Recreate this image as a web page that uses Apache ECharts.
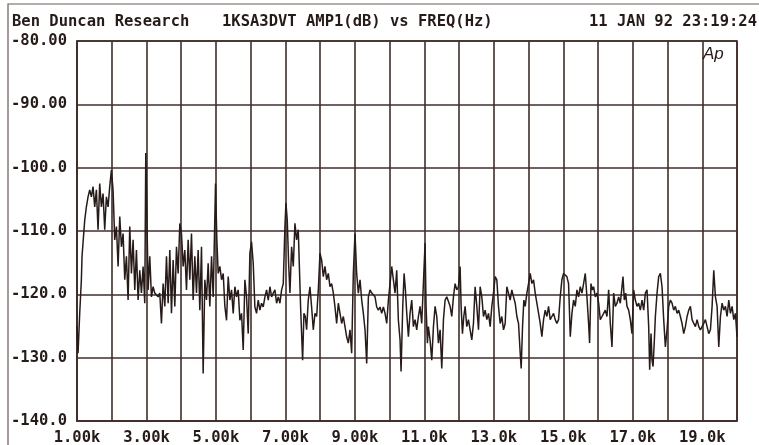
<!DOCTYPE html>
<html>
<head>
<meta charset="utf-8">
<script src="https://cdn.jsdelivr.net/npm/echarts/dist/echarts.min.js"></script>
<style>
html,body{margin:0;padding:0;background:#fff;}
#c{width:759px;height:445px;}
</style>
</head>
<body>
<div id="c"></div>
<script>
// Header texts
const headerLeft = 'Ben Duncan Research';
const headerMid = '1KSA3DVT AMP1(dB) vs FREQ(Hz)';
const headerRight = '11 JAN 92 23:19:24';

// Axis ticks and labels
const xTicksHz = [1000,2000,3000,4000,5000,6000,7000,8000,9000,10000,11000,12000,13000,14000,15000,16000,17000,18000,19000,20000];
const xTickLabels = ['1.00k','','3.00k','','5.00k','','7.00k','','9.00k','','11.0k','','13.0k','','15.0k','','17.0k','','19.0k',''];
const yTicksDb = [-140,-130,-120,-110,-100,-90,-80];
const yTickLabels = ['-140.0','-130.0','-120.0','-110.0','-100.0','-90.00','-80.00'];

// Spectrum: [frequency Hz, amplitude dB]
const band1 = [[1000,-125.0],[1030,-129.3],[1078,-123.0],[1126,-117.7],[1145,-114.0],[1222,-108.3],[1270,-106.2],[1318,-104.6],[1366,-103.5],[1414,-104.6],[1462,-103.0],[1510,-106.2],[1558,-103.5],[1606,-109.8],[1654,-102.5],[1702,-106.2],[1750,-104.1],[1798,-109.8],[1846,-104.6],[1894,-106.2],[1942,-103.0],[1990,-100.4],[2038,-103.5],[2086,-111.4],[2135,-109.3],[2183,-115.6],[2231,-107.7],[2279,-112.5],[2327,-110.4],[2375,-117.7],[2423,-114.0],[2471,-120.9],[2519,-109.3],[2567,-116.7],[2615,-111.4],[2663,-119.3],[2711,-113.0],[2759,-120.9],[2807,-116.2],[2855,-119.8],[2903,-115.6],[2951,-121.4],[2980,-97.7],[3009,-106.2],[3047,-119.3],[3095,-114.0],[3143,-120.4],[3191,-118.8],[3239,-119.8],[3287,-119.6],[3335,-120.4],[3383,-119.8],[3431,-124.6],[3479,-118.3],[3528,-121.9],[3576,-114.0],[3624,-121.4],[3672,-113.0],[3720,-123.0],[3768,-114.6],[3816,-121.9],[3864,-112.5],[3912,-116.7],[3960,-108.8],[4008,-110.4],[4056,-115.6],[4104,-113.0],[4152,-119.3],[4200,-111.4],[4248,-117.7],[4296,-110.4],[4344,-120.9],[4392,-114.0],[4440,-119.8],[4488,-113.0],[4536,-122.5],[4584,-112.5],[4632,-132.5],[4680,-117.7],[4728,-120.9],[4776,-115.1],[4824,-121.9],[4873,-114.0],[4921,-120.4],[4988,-102.5],[5026,-111.4],[5065,-116.7],[5113,-115.6],[5161,-117.7],[5209,-116.7],[5257,-121.9],[5305,-124.1],[5353,-117.2],[5401,-120.9],[5449,-119.3],[5497,-123.0],[5545,-118.8],[5593,-120.4],[5641,-119.3],[5689,-124.1],[5737,-123.0]];

const band2 = [[5785,-128.8],[5833,-117.7],[5881,-120.4],[5929,-126.2],[5977,-113.5],[6025,-111.7],[6073,-115.1],[6121,-122.0],[6169,-123.0],[6217,-120.9],[6265,-122.5],[6313,-121.4],[6361,-122.0],[6410,-120.4],[6458,-119.3],[6506,-120.9],[6554,-118.8],[6602,-120.4],[6650,-119.8],[6698,-119.3],[6746,-121.4],[6794,-120.4],[6842,-121.4],[6890,-119.3],[6938,-118.3],[6986,-109.3],[7015,-105.6],[7053,-108.3],[7092,-115.1],[7130,-119.8],[7178,-112.5],[7226,-115.6],[7274,-108.8],[7322,-111.4],[7370,-109.8],[7399,-115.1],[7437,-122.0],[7466,-126.2],[7495,-130.4],[7533,-123.0],[7572,-123.5],[7610,-125.6],[7658,-120.9],[7706,-118.8],[7754,-122.0],[7802,-125.6],[7851,-123.0],[7899,-123.5],[7947,-119.3],[7995,-113.5],[8043,-114.6],[8091,-117.2],[8139,-115.6],[8187,-117.7],[8235,-116.7],[8283,-118.8],[8331,-118.3],[8379,-119.8],[8427,-122.0],[8475,-124.6],[8523,-121.4],[8571,-123.0],[8619,-124.6],[8667,-123.5],[8715,-125.1],[8763,-126.7],[8811,-127.7],[8859,-125.6],[8907,-129.3],[8955,-116.7],[9003,-110.4],[9051,-116.7],[9099,-119.8],[9148,-117.7],[9196,-120.9],[9244,-123.0],[9292,-125.6],[9340,-130.9],[9388,-120.4],[9436,-119.3],[9484,-119.8],[9532,-119.8],[9580,-120.4],[9628,-122.0],[9676,-122.5],[9724,-122.0],[9772,-123.0],[9820,-122.0],[9868,-123.0],[9916,-124.6],[9964,-120.9],[10012,-118.3],[10060,-115.6],[10108,-117.7],[10156,-119.8],[10204,-116.2],[10252,-124.1],[10300,-127.2],[10329,-132.2],[10377,-122.0],[10416,-116.7],[10454,-119.3],[10493,-123.0]];

const band3 = [[10540,-126.7],[10588,-123.0],[10636,-120.9],[10684,-125.1],[10732,-124.0],[10780,-125.6],[10828,-123.5],[10876,-121.9],[10924,-124.6],[10972,-118.3],[11020,-111.9],[11049,-121.9],[11088,-127.7],[11116,-125.1],[11164,-127.2],[11213,-130.4],[11261,-125.1],[11309,-121.9],[11357,-123.5],[11405,-127.7],[11453,-125.6],[11501,-131.7],[11549,-124.0],[11597,-120.9],[11645,-120.4],[11693,-120.4],[11741,-121.9],[11789,-123.5],[11837,-120.4],[11885,-118.3],[11933,-119.3],[11981,-118.8],[12029,-115.6],[12058,-121.9],[12096,-126.2],[12135,-123.5],[12173,-121.9],[12221,-125.1],[12269,-124.0],[12317,-125.6],[12365,-127.2],[12413,-124.6],[12461,-118.8],[12510,-121.9],[12558,-125.6],[12606,-118.8],[12654,-120.4],[12702,-123.5],[12750,-122.5],[12798,-124.0],[12846,-123.0],[12894,-125.1],[12942,-121.9],[12990,-119.8],[13038,-117.2],[13086,-117.7],[13134,-121.9],[13182,-124.6],[13230,-123.5],[13278,-125.6],[13326,-124.6],[13374,-118.8],[13422,-119.8],[13470,-120.9],[13518,-119.3],[13567,-120.4],[13615,-121.4],[13663,-123.5],[13711,-124.6],[13759,-129.3],[13787,-131.7],[13826,-125.1],[13864,-120.9],[13903,-121.9],[13951,-119.8],[13999,-118.3],[14047,-116.7],[14095,-118.3],[14143,-117.7],[14191,-119.8],[14239,-121.4],[14287,-121.4],[14335,-124.6],[14383,-126.7],[14431,-124.0],[14479,-122.5],[14527,-123.5],[14575,-121.9],[14623,-124.0],[14671,-123.5],[14719,-123.0],[14767,-124.0],[14815,-124.6],[14863,-124.0],[14911,-120.4],[14959,-117.7],[15007,-116.7],[15055,-116.4],[15103,-117.2],[15151,-118.3]];

const band4 = [[15200,-126.7],[15248,-123.0],[15296,-120.9],[15344,-121.9],[15392,-119.3],[15440,-120.4],[15488,-118.8],[15536,-119.8],[15584,-118.3],[15632,-116.7],[15680,-120.4],[15728,-124.6],[15757,-127.7],[15796,-118.3],[15834,-119.3],[15872,-118.8],[15920,-120.4],[15969,-119.8],[16017,-121.4],[16065,-124.0],[16113,-123.5],[16161,-123.0],[16209,-122.5],[16257,-123.5],[16305,-119.3],[16353,-124.6],[16401,-128.3],[16449,-119.8],[16497,-121.9],[16545,-121.4],[16593,-120.4],[16641,-121.4],[16689,-118.8],[16718,-117.2],[16756,-120.9],[16795,-119.8],[16833,-121.9],[16881,-122.5],[16929,-124.0],[16977,-126.2],[17025,-119.3],[17073,-120.9],[17121,-121.9],[17169,-121.4],[17217,-122.5],[17266,-120.9],[17314,-122.5],[17362,-119.8],[17410,-119.3],[17458,-125.1],[17486,-131.9],[17525,-126.2],[17554,-130.4],[17583,-131.4],[17621,-127.2],[17650,-123.5],[17698,-119.8],[17746,-117.2],[17794,-116.7],[17842,-118.8],[17890,-124.0],[17938,-128.3],[17986,-125.6],[18034,-121.9],[18082,-120.9],[18130,-121.4],[18178,-122.5],[18226,-121.9],[18274,-123.0],[18322,-122.5],[18370,-123.5],[18418,-124.6],[18466,-126.2],[18514,-125.1],[18563,-123.5],[18611,-122.5],[18659,-121.9],[18707,-124.0],[18755,-124.6],[18803,-125.1],[18851,-124.0],[18899,-125.1],[18947,-125.6],[18995,-125.1],[19043,-124.6],[19091,-124.0],[19139,-125.1],[19187,-126.2],[19235,-125.6],[19283,-121.9],[19331,-116.2],[19379,-120.4],[19427,-121.9],[19475,-128.3],[19523,-123.5],[19571,-121.4],[19619,-122.5],[19667,-121.9],[19715,-123.5],[19763,-120.9],[19811,-123.0],[19859,-121.9],[19907,-124.0],[19955,-123.0],[20000,-126.7]];

const spectrum = band1.concat(band2, band3, band4);

const ink = '#271b19';
const gridInk = '#3f2e2a';
const monoFont = '"DejaVu Sans Mono", "Liberation Mono", monospace';

const chart = echarts.init(document.getElementById('c'), null, {renderer: 'canvas'});
chart.setOption({
  animation: false,
  backgroundColor: '#ffffff',
  grid: {
    left: 77, right: 22, top: 41, bottom: 24,
    containLabel: false,
    outerBoundsMode: 'none',
    show: true,
    borderColor: gridInk,
    borderWidth: 1.6,
    backgroundColor: '#ffffff'
  },
  xAxis: {
    type: 'value',
    min: xTicksHz[0],
    max: xTicksHz[xTicksHz.length - 1],
    interval: 1000,
    axisLine: {show: true, lineStyle: {color: gridInk, width: 1.6}},
    axisTick: {show: false},
    splitLine: {show: true, lineStyle: {color: gridInk, width: 1.6}},
    axisLabel: {
      show: true,
      margin: 9,
      color: ink,
      fontFamily: monoFont,
      fontWeight: 'bold',
      fontSize: 15.5,
      showMinLabel: true,
      showMaxLabel: true,
      hideOverlap: false,
      formatter: function (v) {
        const i = xTicksHz.indexOf(Math.round(v));
        return i >= 0 ? xTickLabels[i] : '';
      }
    }
  },
  yAxis: {
    type: 'value',
    min: yTicksDb[0],
    max: yTicksDb[yTicksDb.length - 1],
    interval: 10,
    axisLine: {show: true, lineStyle: {color: gridInk, width: 1.6}},
    axisTick: {show: false},
    splitLine: {show: true, lineStyle: {color: gridInk, width: 1.6}},
    axisLabel: {
      show: true,
      align: 'left',
      margin: 66,
      color: ink,
      fontFamily: monoFont,
      fontWeight: 'bold',
      fontSize: 15.5,
      showMinLabel: true,
      showMaxLabel: true,
      formatter: function (v) {
        const i = yTicksDb.indexOf(Math.round(v));
        return i >= 0 ? yTickLabels[i] : '';
      }
    }
  },
  series: [{
    type: 'line',
    data: spectrum,
    showSymbol: false,
    symbol: 'none',
    clip: true,
    lineStyle: {color: ink, width: 1.5},
    z: 3
  }],
  graphic: [
    {type: 'rect', shape: {x: 8, y: 4, width: 800, height: 500}, style: {fill: 'none', stroke: '#6a5a55', lineWidth: 1.2}, z: 0, silent: true},
    {type: 'text', x: 12, y: 22, style: {text: headerLeft, font: 'bold 15.5px ' + monoFont, fill: ink, textVerticalAlign: 'middle', verticalAlign: 'middle'}},
    {type: 'text', x: 222, y: 22, style: {text: headerMid, font: 'bold 15.5px ' + monoFont, fill: ink, textVerticalAlign: 'middle', verticalAlign: 'middle'}},
    {type: 'text', x: 757, y: 22, style: {text: headerRight, font: 'bold 15.5px ' + monoFont, fill: ink, align: 'right', textAlign: 'right', textVerticalAlign: 'middle', verticalAlign: 'middle'}},
    {type: 'text', x: 703, y: 54, z: 10, style: {text: 'Ap', font: 'italic 17px "Liberation Sans", "DejaVu Sans", sans-serif', fill: ink, textVerticalAlign: 'middle', verticalAlign: 'middle'}}
  ]
});
</script>
</body>
</html>
